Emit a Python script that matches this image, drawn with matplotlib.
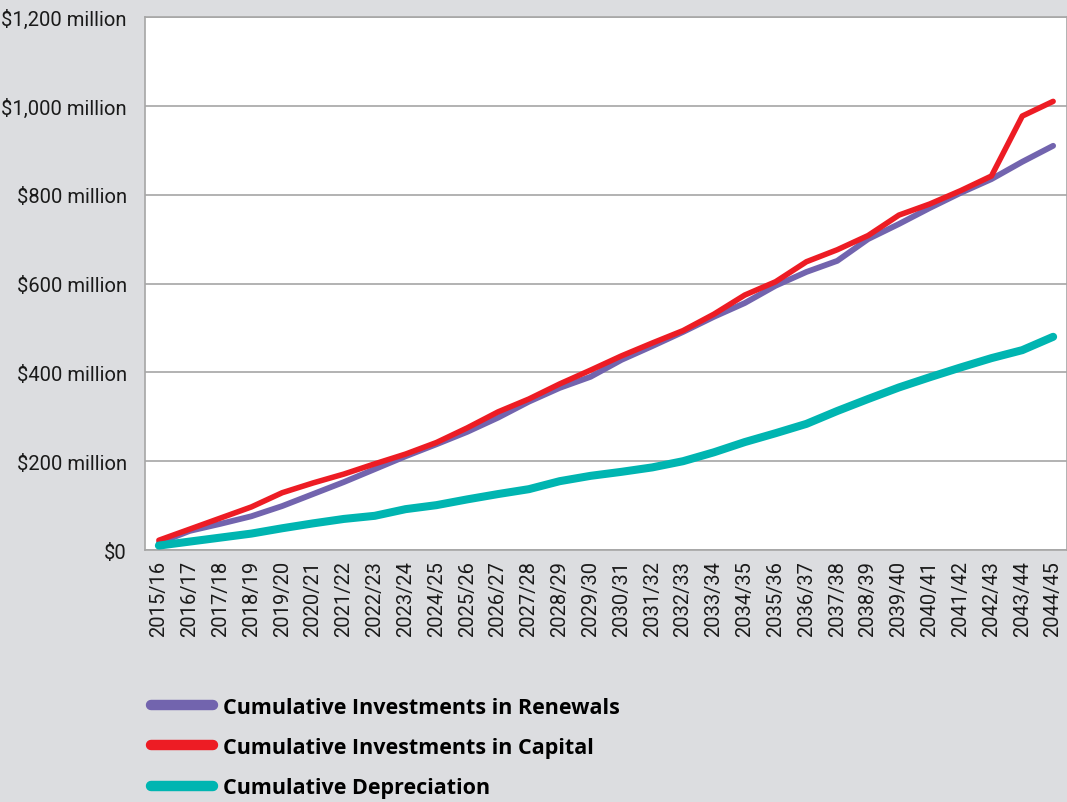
import matplotlib.pyplot as plt
from matplotlib.lines import Line2D
from matplotlib.ticker import FuncFormatter

years = ["2015/16", "2016/17", "2017/18", "2018/19", "2019/20", "2020/21",
         "2021/22", "2022/23", "2023/24", "2024/25", "2025/26", "2026/27",
         "2027/28", "2028/29", "2029/30", "2030/31", "2031/32", "2032/33",
         "2033/34", "2034/35", "2035/36", "2036/37", "2037/38", "2038/39",
         "2039/40", "2040/41", "2041/42", "2042/43", "2043/44", "2044/45"]

# $ million
renewals = [16, 43, 59, 76, 99, 126, 153, 182, 211, 238, 266, 298,
            334, 365, 390, 428, 459, 491, 525, 556, 595, 626, 651, 700,
            734, 770, 804, 835, 874, 910]
capital = [22, 47, 72, 97, 129, 151, 171, 194, 216, 242, 275, 311,
           340, 374, 405, 437, 466, 494, 531, 574, 604, 649, 676, 708,
           754, 779, 809, 842, 977, 1010]
depreciation = [10, 19, 28, 37, 49, 60, 70, 77, 92, 101, 114, 126,
                137, 155, 167, 176, 186, 200, 220, 243, 263, 284, 313, 340,
                366, 389, 411, 432, 450, 480]

bg = "#dcdde0"
c_ren = "#7264ae"
c_cap = "#ed1c24"
c_dep = "#00b5b1"

fig = plt.figure(figsize=(10.67, 8.03), dpi=100, facecolor=bg)
ax = fig.add_axes([0.1359, 0.3138, 0.8641, 0.6638])
ax.set_facecolor("white")

x = range(len(years))
ax.plot(x, renewals, color=c_ren, lw=4.2, solid_capstyle="round", zorder=3)
ax.plot(x, capital, color=c_cap, lw=4.0, solid_capstyle="round", zorder=4)
ax.plot(x, depreciation, color=c_dep, lw=5.8, solid_capstyle="round", zorder=5)

ax.set_xlim(-0.45, len(years) - 0.55)
ax.set_ylim(0, 1200)
ax.set_yticks(range(0, 1201, 200))
ax.yaxis.set_major_formatter(FuncFormatter(
    lambda v, p: "$0" if v == 0 else f"${int(v):,} million"))
ax.set_xticks(list(x))
ax.set_xticklabels(years, rotation=90)
ax.grid(axis="y", color="#a6a6a6", lw=1.2)
ax.set_axisbelow(True)
for s in ax.spines.values():
    s.set_color("#a6a6a6")
    s.set_linewidth(1.2)
ax.tick_params(length=0, labelsize=14.5, colors="#1a1a1a")
ax.tick_params(axis="y", pad=13)
ax.tick_params(axis="x", pad=7)
for lab in ax.get_yticklabels() + ax.get_xticklabels():
    lab.set_family("Roboto")

handles = [Line2D([], [], color=c, lw=7.5, solid_capstyle="round")
           for c in (c_ren, c_cap, c_dep)]
fig.legend(handles, ["Cumulative Investments in Renewals",
                     "Cumulative Investments in Capital",
                     "Cumulative Depreciation"],
           loc="upper left", bbox_to_anchor=(0.133, 0.142),
           bbox_transform=fig.transFigure, frameon=False,
           prop={"family": "Open Sans", "weight": "bold", "size": 15.5},
           handlelength=2.9, handletextpad=0.45, labelspacing=0.9,
           borderaxespad=0)

fig.savefig("out.png", dpi=100, facecolor=bg)
